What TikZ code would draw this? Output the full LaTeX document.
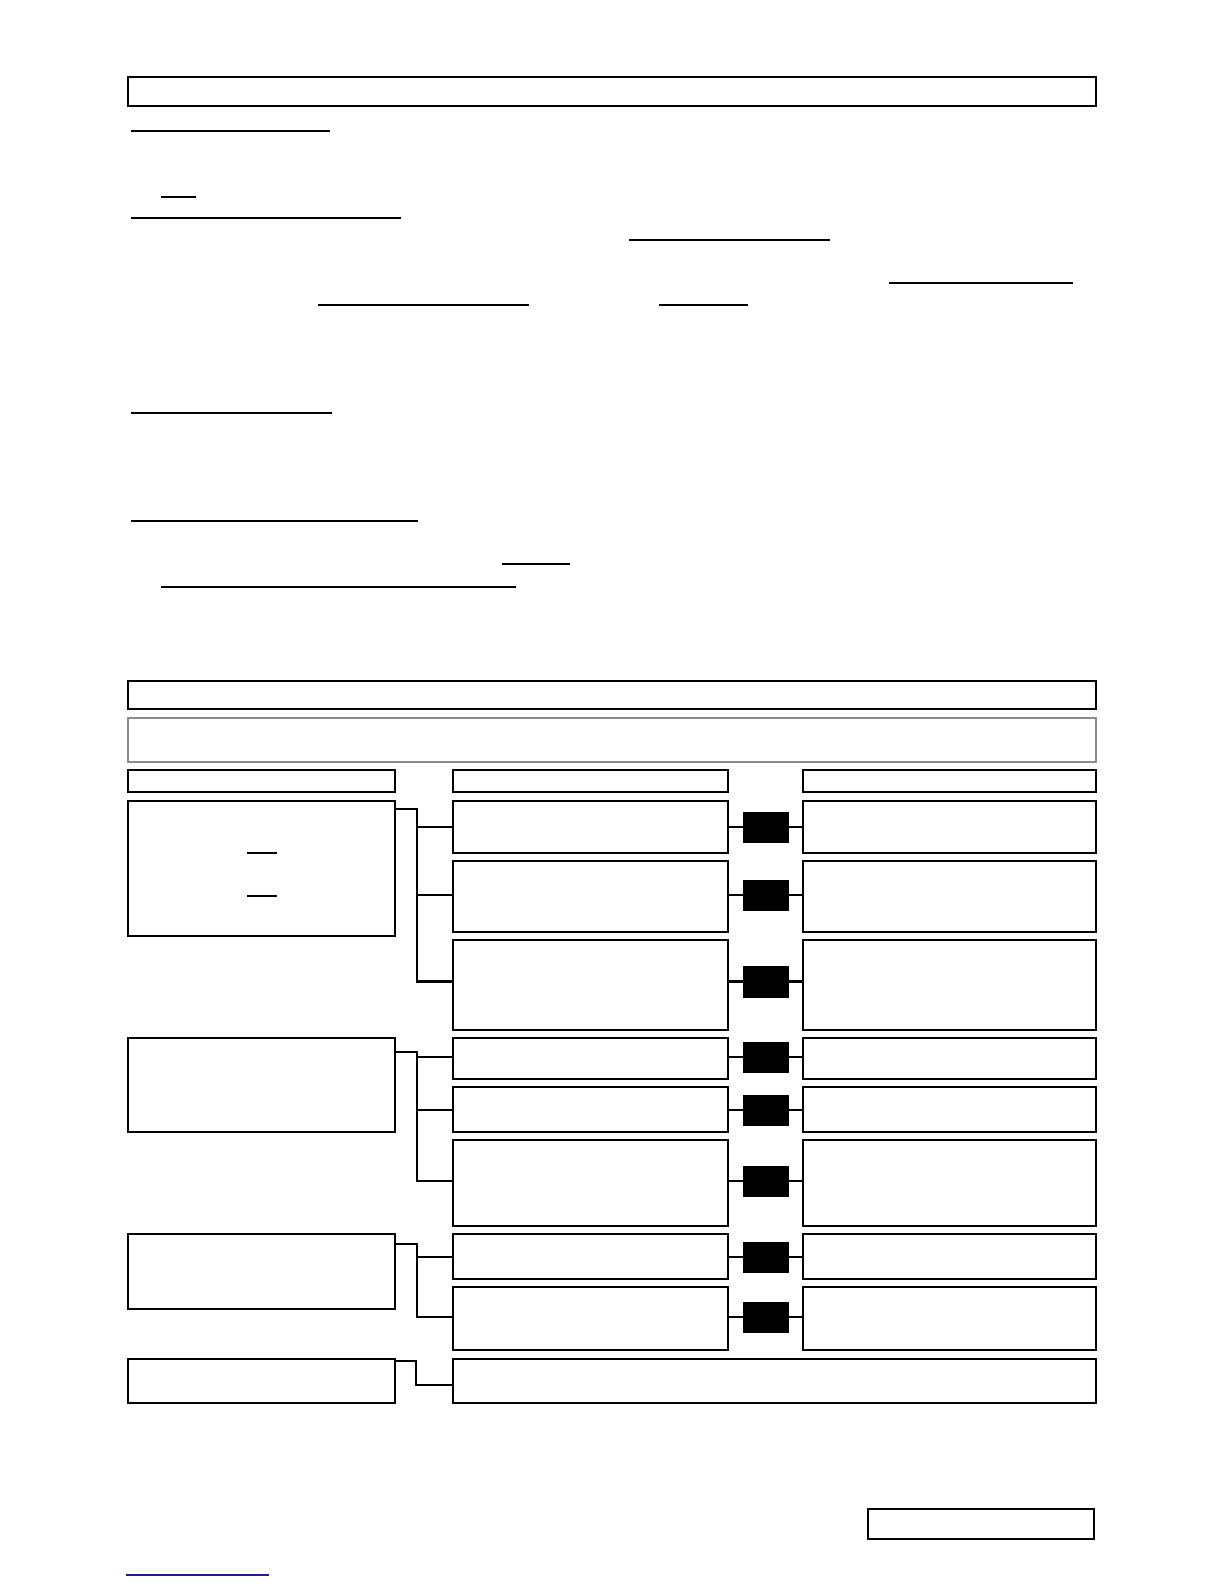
\documentclass[tikz,border=0pt]{standalone}
\usetikzlibrary{fit}
\definecolor{boxgray}{RGB}{140,140,140}
\definecolor{linkblue}{RGB}{30,30,140}
\newcommand{\mybox}[6]{\node[#6, fit={(#2,#3) (#4,#5)}] (#1) {};}
\begin{document}
\begin{tikzpicture}[x=0.5pt,y=-0.5pt,
  box/.style={draw=black,line width=0.7pt,inner sep=0pt,outer sep=0pt},
  graybox/.style={draw=boxgray,line width=0.9pt,inner sep=0pt,outer sep=0pt},
  blk/.style={draw=black,fill=black,inner sep=0pt,outer sep=0pt,line width=0.4pt},
  conn/.style={line width=1.2pt,black},
  uline/.style={line width=0.7pt,black},
  bline/.style={line width=0.8pt,linkblue}]
\useasboundingbox (0,0) rectangle (1224,1584);
\fill[white] (0,0) rectangle (1224,1584);

% top part
\mybox{top}{128}{77}{1096}{106}{box}
\draw[uline] (131,131) -- (330,131);
\draw[uline] (161,197) -- (196,197);
\draw[uline] (131,218) -- (401,218);
\draw[uline] (629,240) -- (830,240);
\draw[uline] (889,283) -- (1073,283);
\draw[uline] (318,305) -- (529,305);
\draw[uline] (659,305) -- (748,305);
\draw[uline] (131,413) -- (332,413);
\draw[uline] (131,521) -- (418,521);
\draw[uline] (502,564) -- (570,564);
\draw[uline] (161,587) -- (516,587);

% second section
\mybox{hdr}{128}{681}{1096}{709}{box}
\mybox{gray}{128}{718}{1096}{762}{graybox}
\mybox{colA}{128}{770}{395}{792}{box}
\mybox{colB}{453}{770}{728}{792}{box}
\mybox{colC}{803}{770}{1096}{792}{box}

\mybox{L1}{128}{801}{395}{936}{box}
\mybox{L2}{128}{1038}{395}{1132}{box}
\mybox{L3}{128}{1234}{395}{1309}{box}
\mybox{L4}{128}{1359}{395}{1403}{box}
\draw[uline] (247,853) -- (277,853);
\draw[uline] (247,896) -- (277,896);

\foreach \i/\ya/\yb in {1/801/853,2/861/932,3/940/1030,4/1038/1079,5/1087/1132,6/1140/1226,7/1234/1279,8/1287/1350}{
  \mybox{M\i}{453}{\ya}{728}{\yb}{box}
  \mybox{R\i}{803}{\ya}{1096}{\yb}{box}
}
\foreach \i/\ya/\yb in {1/812/842,2/880/910,3/966/997,4/1042/1072,5/1095/1125,6/1166/1196,7/1242/1272,8/1302/1332}{
  \mybox{B\i}{743}{\ya}{788}{\yb}{blk}
}
\foreach \i in {1,...,8}{
  \draw[conn] (B\i.west -| M\i.east) -- (B\i.west);
  \draw[conn] (B\i.east) -- (B\i.east -| R\i.west);
}
\mybox{W}{453}{1359}{1096}{1403}{box}

% tree connectors
\draw[conn] ([yshift=-4pt]L1.north east) -- ++(22,0) coordinate (j1) |- (B3.west -| M3.west);
\draw[conn] (j1 |- B1.west) -- (B1.west -| M1.west);
\draw[conn] (j1 |- B2.west) -- (B2.west -| M2.west);

\draw[conn] ([yshift=-7pt]L2.north east) -- ++(22,0) coordinate (j2) |- (B6.west -| M6.west);
\draw[conn] (j2 |- B4.west) -- (B4.west -| M4.west);
\draw[conn] (j2 |- B5.west) -- (B5.west -| M5.west);

\draw[conn] ([yshift=-5pt]L3.north east) -- ++(22,0) coordinate (j3) |- (B8.west -| M8.west);
\draw[conn] (j3 |- B7.west) -- (B7.west -| M7.west);

\draw[conn] ([yshift=-1pt]L4.north east) -- ++(21,0) coordinate (j4) |- ([yshift=-13pt]W.north west);

% footer
\mybox{foot}{868}{1509}{1094}{1539}{box}
\coordinate (bl1) at (126,1575);
\coordinate (bl2) at (269,1575);
\draw[bline] (bl1) -- (bl2);
\end{tikzpicture}
\end{document}
